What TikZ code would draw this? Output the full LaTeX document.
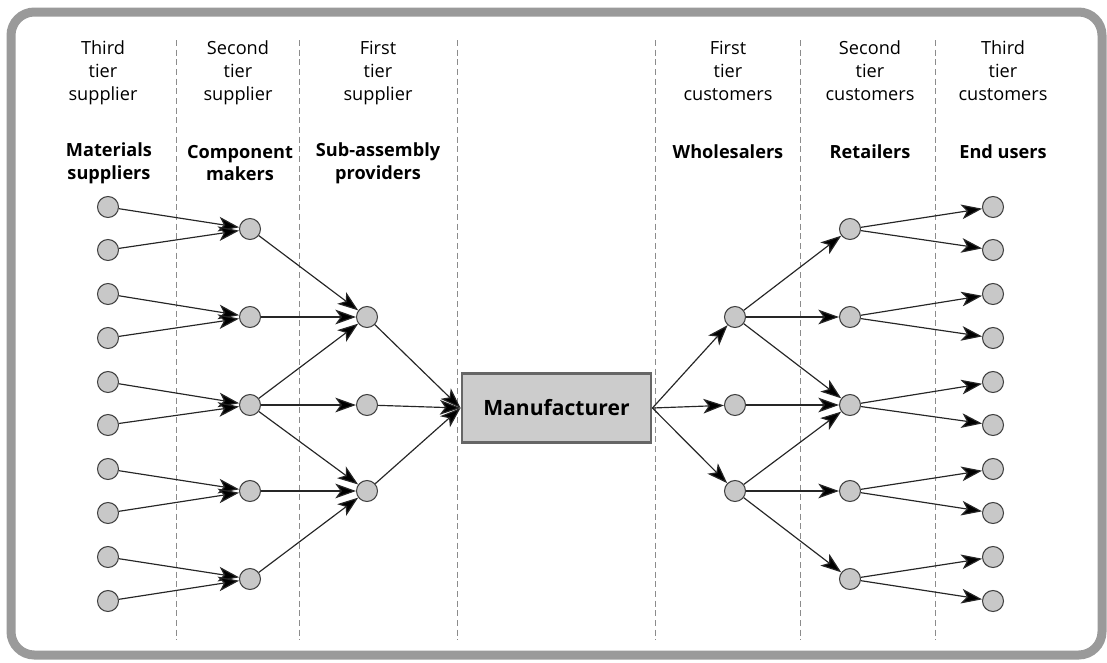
\documentclass[tikz,border=0pt]{standalone}
\usepackage{fontspec}
\setmainfont{Open Sans}
\usetikzlibrary{arrows.meta}

\definecolor{framegray}{HTML}{9A9A9A}
\definecolor{dotfill}{HTML}{C8C8C8}
\definecolor{boxfill}{HTML}{CCCCCC}

\tikzset{
	dot/.style={circle, draw=black!75, fill=dotfill, line width=0.9pt, minimum size=6.3mm, inner sep=0pt},
	flow/.style={-{Stealth[length=6.2mm, width=4.4mm, inset=1.6mm, fill=black]}, line width=1pt, black!85},
	tierline/.style={dashed, dash pattern=on 1.8mm off 1.1mm, black!45, line width=0.6pt},
	tierhead/.style={align=center, font=\fontsize{15.5pt}{19.6pt}\selectfont},
	rolehead/.style={align=center, font=\fontsize{15.5pt}{19.6pt}\selectfont\bfseries}
}

\begin{document}
\begin{tikzpicture}[x=0.3mm, y=-0.3mm]
		\useasboundingbox (0,0) rectangle (1107,662);
		\draw[framegray, line width=2.7mm, rounded corners=7mm] (11,12) rectangle (1102,655);

		% column separators
		\draw[tierline] (176,40) -- (176,640);
		\draw[tierline] (299,40) -- (299,640);
		\draw[tierline] (457,40) -- (457,640);
		\draw[tierline] (655,40) -- (655,640);
		\draw[tierline] (800,40) -- (800,640);
		\draw[tierline] (935,40) -- (935,640);

		% headings
		\node[tierhead] (h1) at (103,73) {Third\\tier\\supplier};
		\node[tierhead] (h2) at (238,73) {Second\\tier\\supplier};
		\node[tierhead] (h3) at (378,73) {First\\tier\\supplier};
		\node[tierhead] (h4) at (728,71) {First\\tier\\customers};
		\node[tierhead] (h5) at (870,71) {Second\\tier\\customers};
		\node[tierhead] (h6) at (1003,71) {Third\\tier\\customers};

		\node[rolehead] (g1) at (109,163) {Materials\\suppliers};
		\node[rolehead] (g2) at (240,163) {Component\\makers};
		\node[rolehead] (g3) at (378,163) {Sub-assembly\\providers};
		\node[rolehead] (g4) at (728,152) {Wholesalers};
		\node[rolehead] (g5) at (870,152) {Retailers};
		\node[rolehead] (g6) at (1003,152) {End users};

		% materials suppliers
		\node[dot] (s1) at (108,207) {};
		\node[dot] (s2) at (108,250) {};
		\node[dot] (s3) at (108,294) {};
		\node[dot] (s4) at (108,338) {};
		\node[dot] (s5) at (108,382) {};
		\node[dot] (s6) at (108,425) {};
		\node[dot] (s7) at (108,469) {};
		\node[dot] (s8) at (108,513) {};
		\node[dot] (s9) at (108,557) {};
		\node[dot] (s10) at (108,601) {};

		% component makers
		\node[dot] (c1) at (250,229) {};
		\node[dot] (c2) at (250,317) {};
		\node[dot] (c3) at (250,405) {};
		\node[dot] (c4) at (250,491) {};
		\node[dot] (c5) at (250,579) {};

		% sub-assembly providers
		\node[dot] (f1) at (367,317) {};
		\node[dot] (f2) at (367,405) {};
		\node[dot] (f3) at (367,491) {};

		\node[draw=black!60, fill=boxfill, line width=2.2pt, minimum width=56.8mm, minimum height=20.8mm,
			font=\fontsize{18pt}{22pt}\selectfont\bfseries] (mfr) at (556.5,408) {Manufacturer};

		% wholesalers
		\node[dot] (w1) at (735,317) {};
		\node[dot] (w2) at (735,405) {};
		\node[dot] (w3) at (735,491) {};

		% retailers
		\node[dot] (r1) at (850,229) {};
		\node[dot] (r2) at (850,317) {};
		\node[dot] (r3) at (850,405) {};
		\node[dot] (r4) at (850,491) {};
		\node[dot] (r5) at (850,579) {};

		% end users
		\node[dot] (e1) at (993,207) {};
		\node[dot] (e2) at (993,250) {};
		\node[dot] (e3) at (993,294) {};
		\node[dot] (e4) at (993,338) {};
		\node[dot] (e5) at (993,382) {};
		\node[dot] (e6) at (993,425) {};
		\node[dot] (e7) at (993,469) {};
		\node[dot] (e8) at (993,513) {};
		\node[dot] (e9) at (993,557) {};
		\node[dot] (e10) at (993,601) {};

		% supply side
		\draw[flow] (s1) -- (c1);
		\draw[flow] (s2) -- (c1);
		\draw[flow] (s3) -- (c2);
		\draw[flow] (s4) -- (c2);
		\draw[flow] (s5) -- (c3);
		\draw[flow] (s6) -- (c3);
		\draw[flow] (s7) -- (c4);
		\draw[flow] (s8) -- (c4);
		\draw[flow] (s9) -- (c5);
		\draw[flow] (s10) -- (c5);

		\draw[flow] (c1) -- (f1);
		\draw[flow] (c2) -- (f1);
		\draw[flow] (c3) -- (f1);
		\draw[flow] (c3) -- (f2);
		\draw[flow] (c3) -- (f3);
		\draw[flow] (c4) -- (f3);
		\draw[flow] (c5) -- (f3);

		\draw[flow] (f1) -- (mfr.west);
		\draw[flow] (f2) -- (mfr.west);
		\draw[flow] (f3) -- (mfr.west);

		% demand side
		\draw[flow] (mfr.east) -- (w1);
		\draw[flow] (mfr.east) -- (w2);
		\draw[flow] (mfr.east) -- (w3);

		\draw[flow] (w1) -- (r1);
		\draw[flow] (w1) -- (r2);
		\draw[flow] (w1) -- (r3);
		\draw[flow] (w2) -- (r3);
		\draw[flow] (w3) -- (r3);
		\draw[flow] (w3) -- (r4);
		\draw[flow] (w3) -- (r5);

		\draw[flow] (r1) -- (e1);
		\draw[flow] (r1) -- (e2);
		\draw[flow] (r2) -- (e3);
		\draw[flow] (r2) -- (e4);
		\draw[flow] (r3) -- (e5);
		\draw[flow] (r3) -- (e6);
		\draw[flow] (r4) -- (e7);
		\draw[flow] (r4) -- (e8);
		\draw[flow] (r5) -- (e9);
		\draw[flow] (r5) -- (e10);
	\end{tikzpicture}
\end{document}
